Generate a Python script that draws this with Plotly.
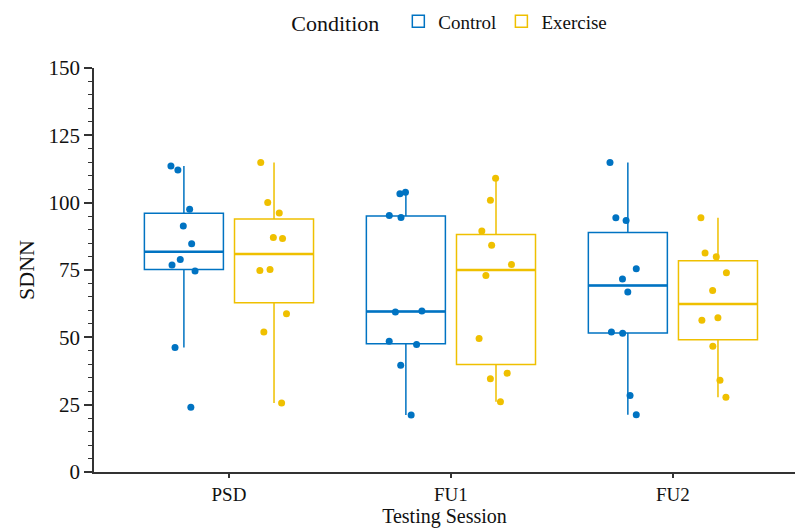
import numpy as np
import plotly.graph_objects as go

# Testing sessions on the x axis
sessions = ["PSD", "FU1", "FU2"]

# SDNN per participant, Control group
control_psd = [112.1, 113.6, 97.6, 91.3, 84.7, 78.9, 76.9, 74.6, 46.2, 24.0]
control_fu1 = [103.3, 103.9, 94.5, 95.2, 59.4, 59.8, 47.3, 48.5, 39.6, 21.2]
control_fu2 = [114.9, 94.4, 93.4, 75.5, 71.7, 66.8, 51.5, 52.0, 28.4, 21.3]

# SDNN per participant, Exercise group
exercise_psd = [114.9, 100.1, 96.2, 87.1, 86.7, 74.8, 75.2, 58.8, 52.0, 25.6]
exercise_fu1 = [109.1, 100.9, 89.5, 84.2, 77.0, 73.0, 49.6, 36.7, 34.6, 26.1]
exercise_fu2 = [94.4, 81.3, 79.9, 74.0, 67.4, 56.3, 57.3, 46.7, 34.1, 27.8]

y_ticks = [0, 25, 50, 75, 100, 125, 150]

groups = {
    "Control": ([control_psd, control_fu1, control_fu2], "#0073C2", -0.203),
    "Exercise": ([exercise_psd, exercise_fu1, exercise_fu2], "#EFC000", 0.203),
}

BOX_W = 0.356
FONT = "Liberation Serif"
INK = "#111111"
AXIS = "#333333"


def tukey_stats(values):
    """Quartiles (linear interpolation) and 1.5*IQR whisker ends."""
    v = np.sort(np.asarray(values, dtype=float))
    q1, med, q3 = np.percentile(v, [25, 50, 75])
    iqr = q3 - q1
    lo = v[v >= q1 - 1.5 * iqr].min()
    hi = v[v <= q3 + 1.5 * iqr].max()
    return q1, med, q3, lo, hi


fig = go.Figure()

for name, (series, color, offset) in groups.items():
    positions = [i + 1 + offset for i in range(len(sessions))]
    stats = [tukey_stats(s) for s in series]
    q1 = [s[0] for s in stats]
    med = [s[1] for s in stats]
    q3 = [s[2] for s in stats]
    lo = [s[3] for s in stats]
    hi = [s[4] for s in stats]

    # box and whiskers
    fig.add_trace(go.Box(
        name=name, x=positions, q1=q1, median=med, q3=q3,
        lowerfence=lo, upperfence=hi, width=BOX_W,
        fillcolor="rgba(255,255,255,0)", line=dict(color=color, width=1.5),
        whiskerwidth=0, boxpoints=False, hoverinfo="skip",
        legendgroup=name, showlegend=True,
    ))
    # heavier median bar
    fig.add_trace(go.Box(
        name=name, x=positions, q1=med, median=med, q3=med,
        lowerfence=med, upperfence=med, width=BOX_W,
        fillcolor="rgba(255,255,255,0)", line=dict(color=color, width=2.6),
        whiskerwidth=0, boxpoints=False, hoverinfo="skip",
        legendgroup=name, showlegend=False,
    ))
    # jittered observations
    xs, ys = [], []
    for p, s in zip(positions, series):
        xs += [p] * len(s)
        ys += list(s)
    fig.add_trace(go.Box(
        name=name, x=xs, y=ys, width=BOX_W,
        boxpoints="all", jitter=0.5, pointpos=0,
        fillcolor="rgba(0,0,0,0)", line=dict(color="rgba(0,0,0,0)", width=0),
        marker=dict(color=color, size=7, opacity=1),
        legendgroup=name, showlegend=False, hoverinfo="y",
    ))

fig.update_layout(
    width=795, height=529,
    margin=dict(l=94, r=0, t=68, b=57),
    paper_bgcolor="white", plot_bgcolor="white",
    boxmode="overlay",
    font=dict(family=FONT, color=INK, size=20),
    legend=dict(
        orientation="h", x=0.509, xanchor="center", y=1.114, yanchor="middle",
        valign="middle",
        title=dict(text="Condition  ", font=dict(size=22, family=FONT, color=INK)),
        font=dict(size=19, family=FONT, color=INK), itemwidth=30,
        bgcolor="rgba(0,0,0,0)",
    ),
    xaxis=dict(
        range=[0.392, 3.55], tickvals=[1, 2, 3], ticktext=sessions,
        showline=True, linecolor=AXIS, linewidth=1.6,
        ticks="outside", ticklen=4, tickwidth=1.6, tickcolor=AXIS,
        showgrid=False, zeroline=False,
        tickfont=dict(size=19, family=FONT, color=INK),
        title=dict(text="Testing Session", font=dict(size=20, family=FONT, color=INK), standoff=3),
    ),
    yaxis=dict(
        range=[0, 150], tickvals=y_ticks,
        showline=True, linecolor=AXIS, linewidth=1.6,
        ticks="outside", ticklen=8, tickwidth=1.6, tickcolor=AXIS,
        minor=dict(dtick=5, ticks="outside", ticklen=4.5, tickwidth=1.2,
                   tickcolor=AXIS, showgrid=False),
        showgrid=False, zeroline=False,
        tickfont=dict(size=21, family=FONT, color=INK),
        title=dict(text="SDNN", font=dict(size=22, family=FONT, color=INK), standoff=8),
    ),
)

fig.write_html("out.html")
